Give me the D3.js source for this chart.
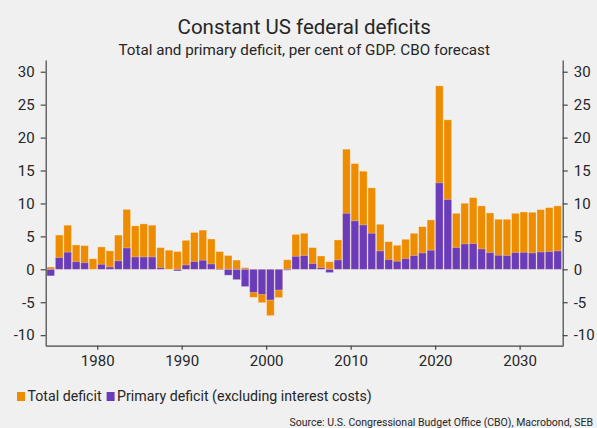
<!DOCTYPE html>
<html>
<head>
<meta charset="utf-8">
<script src="https://cdn.jsdelivr.net/npm/d3@7"></script>
<style>
  html, body { margin: 0; padding: 0; background: #f0f0f0; }
  svg { display: block; }
  text { font-family: Roboto, "Noto Sans", sans-serif; fill: #262626; }
</style>
</head>
<body>
<svg id="chart" width="597" height="428"></svg>
<script>
// Fiscal years shown (1974–2034)
const years = [
  1974, 1975, 1976, 1977, 1978, 1979, 1980, 1981, 1982, 1983,
  1984, 1985, 1986, 1987, 1988, 1989, 1990, 1991, 1992, 1993,
  1994, 1995, 1996, 1997, 1998, 1999, 2000, 2001, 2002, 2003,
  2004, 2005, 2006, 2007, 2008, 2009, 2010, 2011, 2012, 2013,
  2014, 2015, 2016, 2017, 2018, 2019, 2020, 2021, 2022, 2023,
  2024, 2025, 2026, 2027, 2028, 2029, 2030, 2031, 2032, 2033, 2034
];

// Total deficit, % of GDP
const totalDeficit = [
  0.35, 5.2, 6.7, 3.7, 3.6, 1.6, 3.4, 2.8, 5.2, 9.1,
  6.6, 6.9, 6.7, 3.3, 2.9, 2.7, 4.4, 5.6, 5.95, 4.6,
  2.7, 2.1, 1.4, 0.25, -4.26, -5.07, -7.04, -4.3, 1.45, 5.3,
  5.47, 3.3, 2.03, 1.15, 4.46, 18.24, 16.06, 14.9, 12.36, 6.84,
  4.2, 3.65, 4.56, 5.47, 6.48, 7.5, 27.86, 22.7, 8.5, 10.03,
  10.89, 9.63, 8.56, 7.6, 7.6, 8.5, 8.71, 8.66, 9.07, 9.37, 9.63
];

// Primary deficit (excluding interest costs), % of GDP
const primaryDeficit = [
  -1.0, 1.77, 2.6, 1.15, 1.0, 0.0, 0.76, 0.35, 1.27, 3.24,
  1.87, 1.87, 1.87, 0.25, 0.0, -0.25, 0.66, 1.17, 1.37, 0.81,
  -0.1, -0.9, -1.57, -2.63, -3.5, -3.8, -4.66, -3.14, -0.15, 1.97,
  2.08, 0.86, 0.25, -0.5, 1.42, 8.5, 7.35, 6.74, 5.47, 2.79,
  1.47, 1.22, 1.62, 2.08, 2.48, 2.89, 13.12, 10.59, 3.29, 3.85,
  3.9, 3.09, 2.53, 2.13, 2.08, 2.53, 2.58, 2.48, 2.63, 2.68, 2.79
];

const yTicks = [-10, -5, 0, 5, 10, 15, 20, 25, 30];
const xTicks = [1980, 1990, 2000, 2010, 2020, 2030];

const seriesNames = ["Total deficit", "Primary deficit (excluding interest costs)"];
const seriesColors = ["#ee8c00", "#6a3cb9"];

const svg = d3.select("#chart");
const plot = { left: 45.7, right: 562.7, top: 60, bottom: 345.7 };

const x = d3.scaleLinear().domain([1973.9, 2035.1]).range([plot.left, plot.right]);
const y = d3.scaleLinear().domain([-11.6, 31.78]).range([plot.bottom, plot.top]);

const barW = (x(1) - x(0)) * 0.9;

// Titles
svg.append("text")
  .attr("x", (plot.left + plot.right) / 2).attr("y", 34)
  .attr("text-anchor", "middle")
  .style("font-size", "20.5px")
  .text("Constant US federal deficits");
svg.append("text")
  .attr("x", (plot.left + plot.right) / 2).attr("y", 55)
  .attr("text-anchor", "middle")
  .style("font-size", "15.2px")
  .text("Total and primary deficit, per cent of GDP. CBO forecast");

// Bars: total first, primary drawn over it
const rows = years.map((yr, i) => ({ yr, total: totalDeficit[i], primary: primaryDeficit[i] }));
const series = [
  { key: "total", color: seriesColors[0] },
  { key: "primary", color: seriesColors[1] }
];
series.forEach(s => {
  svg.append("g")
    .selectAll("rect")
    .data(rows)
    .join("rect")
      .attr("x", d => x(d.yr + 0.5) - barW / 2)
      .attr("width", barW)
      .attr("y", d => y(Math.max(0, d[s.key])))
      .attr("height", d => Math.abs(y(d[s.key]) - y(0)))
      .attr("fill", s.color)
      .attr("stroke", "#ffffff")
      .attr("stroke-opacity", 0.35)
      .attr("stroke-width", 0.8);
});

// Axes
function styleAxis(g) {
  g.selectAll("path.domain").attr("stroke", "#444").attr("stroke-width", 1.2);
  g.selectAll(".tick line").attr("stroke", "#444").attr("stroke-width", 1.2);
  g.selectAll(".tick text").style("font-size", "15px").style("font-family", "Roboto, sans-serif").attr("fill", "#2b2b2b");
}

svg.append("g")
  .attr("transform", `translate(${plot.left},0)`)
  .call(d3.axisLeft(y).tickValues(yTicks).tickFormat(d => String(d)).tickSize(5).tickSizeOuter(0).tickPadding(6))
  .call(styleAxis);

svg.append("g")
  .attr("transform", `translate(${plot.right},0)`)
  .call(d3.axisRight(y).tickValues(yTicks).tickFormat(d => String(d)).tickSize(5).tickSizeOuter(0).tickPadding(6))
  .call(styleAxis);

svg.append("g")
  .attr("transform", `translate(0,${plot.bottom})`)
  .call(d3.axisBottom(x).tickValues(xTicks).tickFormat(d => String(d)).tickSize(4).tickSizeOuter(0).tickPadding(6))
  .call(styleAxis);

// Legend
const legend = svg.append("g").attr("transform", "translate(17,401)");
let lx = 0;
seriesNames.forEach((name, i) => {
  const item = legend.append("g").attr("transform", `translate(${lx},0)`);
  item.append("rect").attr("x", 0).attr("y", -9).attr("width", 8).attr("height", 9).attr("fill", seriesColors[i]);
  const t = item.append("text").attr("x", 10.5).attr("y", 0).style("font-size", "14.2px").text(name);
  lx += 10.5 + t.node().getComputedTextLength() + 5;
});

// Source
svg.append("text")
  .attr("x", 593).attr("y", 426)
  .attr("text-anchor", "end")
  .style("font-size", "10.5px")
  .text("Source: U.S. Congressional Budget Office (CBO), Macrobond, SEB");
</script>
</body>
</html>
